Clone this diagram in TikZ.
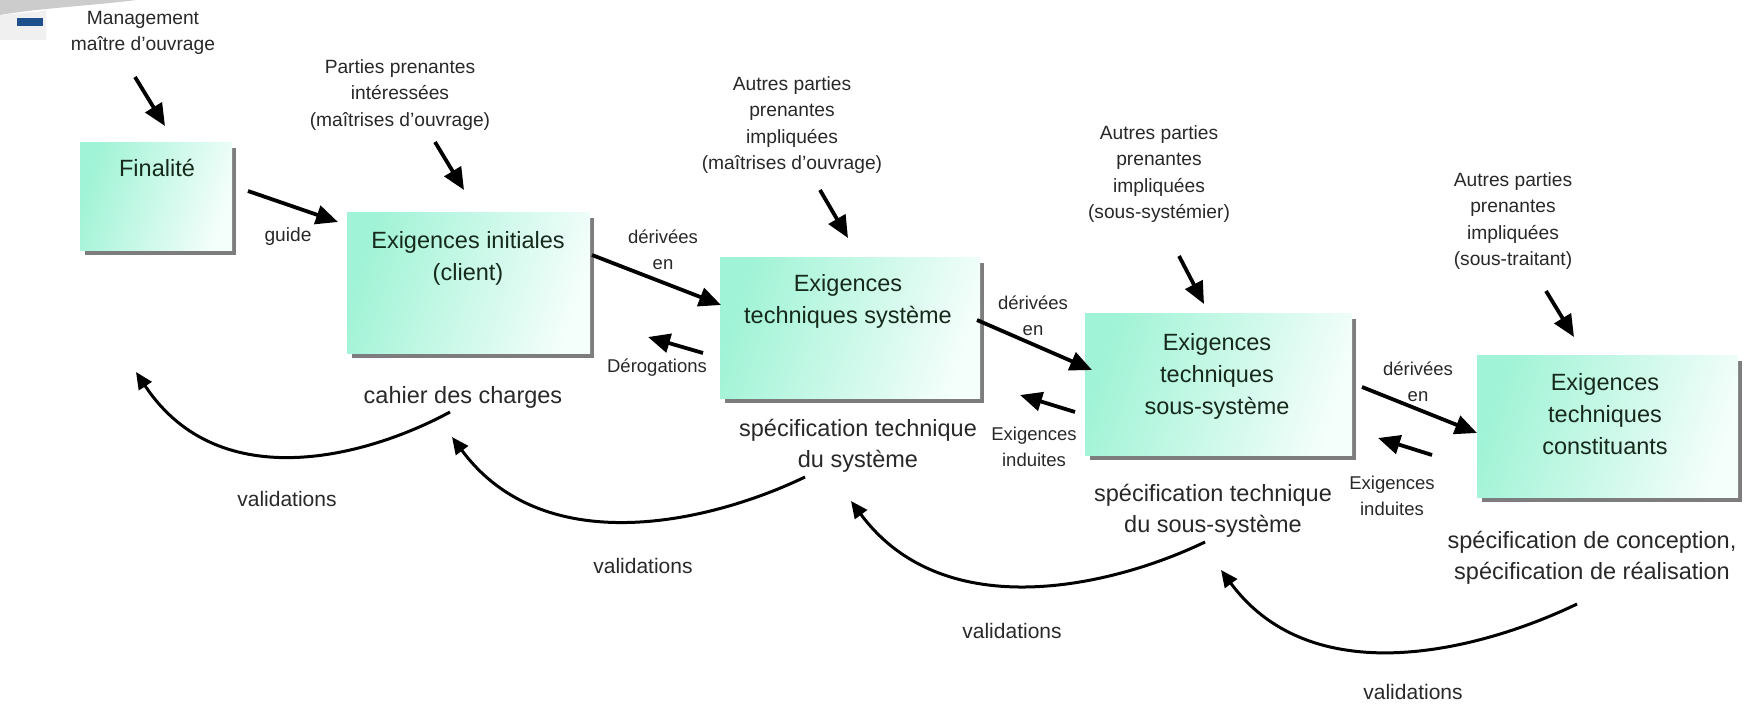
\documentclass[tikz,border=0pt]{standalone}
\usepackage{fontspec}
\setmainfont{Liberation Sans}
\usetikzlibrary{arrows.meta,backgrounds}
\definecolor{mintA}{RGB}{160,243,214}
\definecolor{mintB}{RGB}{244,254,250}
\definecolor{boxtxt}{RGB}{22,42,28}
\definecolor{lbltxt}{RGB}{40,40,40}
\definecolor{shadowc}{RGB}{125,125,125}
\definecolor{logoblue}{RGB}{30,80,140}
\begin{document}
\begin{tikzpicture}[x=0.5pt,y=-0.5pt,
  box/.style={draw=none, top color=mintA, bottom color=mintB, shading angle=72,
    inner sep=0pt, outer sep=0pt},
  boxtext/.style={font=\fontsize{11.75}{16}\selectfont, text=boxtxt, align=center, inner sep=0pt},
  bigtext/.style={font=\fontsize{11.75}{15.5}\selectfont, text=lbltxt, align=center, inner sep=0pt},
  lbl/.style={font=\fontsize{9.6}{13.2}\selectfont, text=lbltxt, align=center, inner sep=0pt},
  smalllbl/.style={font=\fontsize{9.25}{13}\selectfont, text=lbltxt, align=center, inner sep=0pt},
  vallbl/.style={font=\fontsize{10.5}{13}\selectfont, text=lbltxt, align=center, inner sep=0pt},
  fat/.style={line width=1.9pt, -{Triangle[length=11pt,width=9.5pt]}},
  varc/.style={line width=1.5pt, -{Triangle[length=8.5pt,width=7.5pt]}}]
\useasboundingbox (0,0) rectangle (1744,706);

% corner decoration
\fill[gray!40] (0,0) -- (136,0) .. controls (100,5) and (40,8) .. (0,15) -- cycle;
\fill[gray!12] (0,15) .. controls (20,13) and (40,12) .. (46,10) -- (46,40) -- (0,40) -- cycle;
\fill[logoblue] (17,18) rectangle (43,26);

% requirement boxes
\node[box, minimum width=76pt, minimum height=54pt] (fin) at (156,196) {};
\node[box, minimum width=121.5pt, minimum height=70.5pt] (ini) at (468.5,282.5) {};
\node[box, minimum width=130pt, minimum height=70.5pt] (ets) at (850,327.5) {};
\node[box, minimum width=133.5pt, minimum height=71pt] (etss) at (1218.5,384) {};
\node[box, minimum width=130.5pt, minimum height=71pt] (cst) at (1607.5,426) {};

\begin{scope}[on background layer]
  \foreach \b in {fin,ini,ets,etss,cst}
    \fill[shadowc] ([shift={(5,6)}]\b.north west) rectangle ([shift={(4,5)}]\b.south east);
\end{scope}

% box titles
\node[boxtext] (finT) at (157,168) {Finalité};
\node[boxtext] (iniT) at (468,258) {Exigences initiales\\(client)};
\node[boxtext] (etsT) at (848,301) {Exigences\\techniques système};
\node[boxtext] (etssT) at (1217,376) {Exigences\\techniques\\sous-système};
\node[boxtext] (cstT) at (1605,414) {Exigences\\techniques\\constituants};

% stakeholders
\node[lbl] (mgmt) at (143,33) {Management\\maître d'ouvrage};
\node[lbl] (pp) at (400,95) {Parties prenantes\\intéressées\\(maîtrises d'ouvrage)};
\node[lbl] (ap1) at (792,125) {Autres parties\\prenantes\\impliquées\\(maîtrises d'ouvrage)};
\node[lbl] (ap2) at (1159,174) {Autres parties\\prenantes\\impliquées\\(sous-systémier)};
\node[lbl] (ap3) at (1513,221) {Autres parties\\prenantes\\impliquées\\(sous-traitant)};

% link labels
\node[lbl] (guide) at (288,237) {guide};
\node[smalllbl] (der1) at (663,250) {dérivées\\en};
\node[smalllbl] (der2) at (1033,316) {dérivées\\en};
\node[smalllbl] (der3) at (1418,382) {dérivées\\en};
\node[smalllbl] (derog) at (657,368) {Dérogations};
\node[smalllbl] (ind1) at (1034,447) {Exigences\\induites};
\node[smalllbl] (ind2) at (1392,496) {Exigences\\induites};

% documents
\node[bigtext] (cdc) at (463,397) {cahier des charges};
\node[bigtext] (sts) at (858,446) {spécification technique\\du système};
\node[bigtext] (stss) at (1213,511) {spécification technique\\du sous-système};
\node[bigtext] (scr) at (1592,558) {spécification de conception,\\spécification de réalisation};

\node[vallbl] (val1) at (287,499) {validations};
\node[vallbl] (val2) at (643,566) {validations};
\node[vallbl] (val3) at (1012,631) {validations};
\node[vallbl] (val4) at (1413,692) {validations};

% arrow end points
\coordinate (m1a) at (135,77);   \coordinate (m1b) at (165,126);
\coordinate (g1a) at (248,191);  \coordinate (g1b) at (338,222);
\coordinate (p1a) at (435,142);  \coordinate (p1b) at (464,190);
\coordinate (d1a) at (592,255);  \coordinate (d1b) at (721,305);
\coordinate (r1a) at (703,353);  \coordinate (r1b) at (648,337);
\coordinate (a1a) at (820,190);  \coordinate (a1b) at (848,238);
\coordinate (d2a) at (977,320);  \coordinate (d2b) at (1092,370);
\coordinate (i1a) at (1075,412); \coordinate (i1b) at (1020,395);
\coordinate (a2a) at (1179,256); \coordinate (a2b) at (1204,304);
\coordinate (d3a) at (1362,387); \coordinate (d3b) at (1477,433);
\coordinate (i2a) at (1432,455); \coordinate (i2b) at (1378,438);
\coordinate (a3a) at (1546,291); \coordinate (a3b) at (1574,337);

\foreach \a in {m1,g1,p1,d1,r1,a1,d2,i1,a2,d3,i2,a3}
  \draw[fat] (\a a) -- (\a b);

% validation loops
\coordinate (v1s) at (450,412);  \coordinate (v1e) at (136,372);
\coordinate (v2s) at (805,477);  \coordinate (v2e) at (452,437);
\coordinate (v3s) at (1205,542); \coordinate (v3e) at (851,501);
\coordinate (v4s) at (1577,604); \coordinate (v4e) at (1221,570);
\draw[varc] (v1s) .. controls +(-79,43) and +(84,127) .. (v1e);
\draw[varc] (v2s) .. controls +(-89,43) and +(94,127) .. (v2e);
\draw[varc] (v3s) .. controls +(-89,43) and +(94,127) .. (v3e);
\draw[varc] (v4s) .. controls +(-89,43) and +(94,127) .. (v4e);
\end{tikzpicture}
\end{document}
